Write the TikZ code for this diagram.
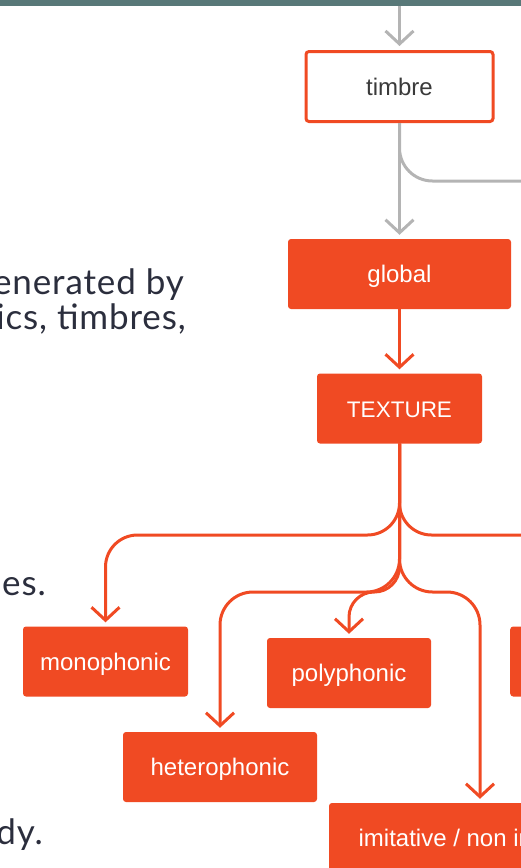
\documentclass[tikz,border=0pt]{standalone}
\usepackage{fontspec}
\setmainfont{Liberation Sans}
\newfontfamily\bodyfont[LetterSpace=2.5]{Lato}
\usetikzlibrary{arrows.meta}

\definecolor{flame}{HTML}{F04A23}
\definecolor{wire}{HTML}{B4B4B4}
\definecolor{slate}{HTML}{587878}
\definecolor{ink}{HTML}{2B2E3D}
\definecolor{labelgray}{HTML}{3A3A3A}

\begin{document}
\begin{tikzpicture}[x=1pt,y=-1pt,
  box/.style={rectangle, rounded corners=3pt, fill=flame, text=white,
    font=\fontsize{24}{28}\selectfont, text height=17pt, text depth=0pt,
    minimum height=70pt, inner sep=0pt},
  outlinebox/.style={box, fill=white, draw=flame, line width=3pt, text=labelgray},
  wireline/.style={draw=flame, line width=3pt},
  link/.style={wireline, -{Straight Barb[length=13pt,width=28pt]}, shorten >=4pt},
  graywire/.style={wireline, draw=wire},
  graylink/.style={link, draw=wire},
  prose/.style={anchor=base east, inner sep=0pt, text=ink,
    font=\bodyfont\fontsize{35}{42}\selectfont}
]
\useasboundingbox (0,0) rectangle (521,868);
\clip (0,0) rectangle (521,868);

% running text on the left
\node[prose] (p1) at (184,294) {enerated by};
\node[prose] (p2) at (186,329) {ics, timbres,};
\node[prose] (p3) at (46,595) {es.};
\node[prose] (p4) at (43,844) {dy.};

% boxes
\node[outlinebox, minimum width=187pt, minimum height=70pt] (timbre) at (399.5,86.5) {timbre};
\node[box, minimum width=223pt] (global) at (399.5,274) {global};
\node[box, minimum width=165pt, font=\fontsize{22.5}{27}\selectfont] (texture) at (399.5,408.5) {TEXTURE};
\node[box, minimum width=165pt] (mono) at (105.5,661.5) {monophonic};
\node[box, minimum width=164pt] (poly) at (349,673) {polyphonic};
\node[box, minimum width=194pt] (hetero) at (220,767) {heterophonic};
\node[box, minimum width=302pt] (imit) at (480,838) {imitative / non imitative};
\node[box, minimum width=165pt, anchor=west] (next) at (510,661.5) {};

% branch levels and off-page ends
\coordinate (feed) at (399.5,0);
\coordinate (grayexit) at (560,181);
\coordinate (lvlA) at (0,535);
\coordinate (lvlB) at (0,592);
\coordinate (rightexit) at (560,535);

% grey connectors
\draw[graylink] (feed) -- (timbre);
\draw[graywire, rounded corners=33pt] (timbre.south) |- (grayexit);
\draw[graylink] (timbre) -- (global);

% orange connectors
\draw[link] (global) -- (texture);
\draw[wireline, rounded corners=32pt] (texture.south) |- (rightexit);
\draw[link, rounded corners=32pt] (texture.south) |- (mono.north |- lvlA) -- (mono.north);
\draw[link, rounded corners=33pt] (texture.south) |- (hetero.north |- lvlB) -- (hetero.north);
\draw[link, rounded corners=25pt] (texture.south) |- (poly.north |- lvlB) -- (poly.north);
\draw[link, rounded corners=33pt] (texture.south) |- (imit.north |- lvlB) -- (imit.north);

% top band
\fill[slate] (0,0) rectangle (521,6);
\end{tikzpicture}
\end{document}
